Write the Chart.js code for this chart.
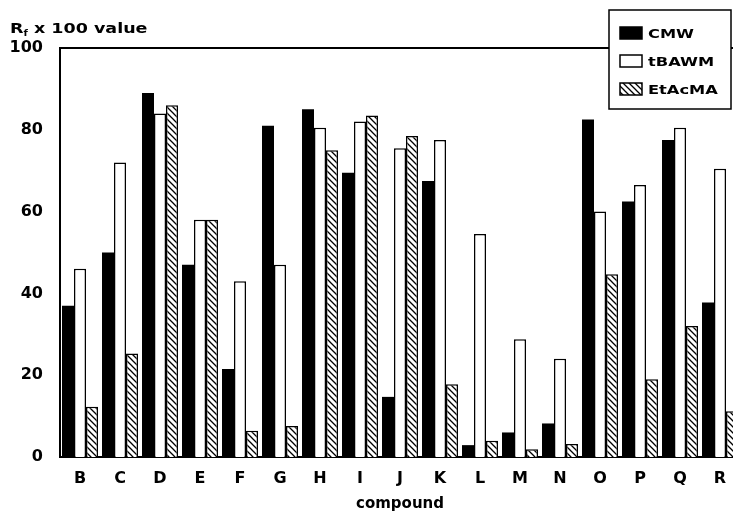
<!DOCTYPE html>
<html lang="en">
<head>
    <meta charset="UTF-8">
    <title>Rf x 100 value by compound</title>
    <style>
        body { margin: 0; overflow: hidden; background: #fff; }
        #wrap { width: 745px; height: 513px; position: relative; }
    </style>
</head>
<body>
    <div id="wrap">
        <canvas id="myChart"></canvas>
    </div>

    <script src="https://cdn.jsdelivr.net/npm/chart.js@4.4.0/dist/chart.umd.min.js"></script>
    <script>
        // data
        const categories = ['B', 'C', 'D', 'E', 'F', 'G', 'H', 'I', 'J', 'K', 'L', 'M', 'N', 'O', 'P', 'Q', 'R'];
        const cmw    = [37, 50, 89, 47, 21.5, 81, 85, 69.5, 14.7, 67.5, 2.9, 6, 8.2, 82.5, 62.5, 77.5, 37.8];
        const tbawm  = [46, 72, 84, 58, 43, 47, 80.5, 82, 75.5, 77.5, 54.5, 28.8, 24, 60, 66.5, 80.5, 70.5];
        const etacma = [12.3, 25.3, 86, 58, 6.4, 7.6, 75, 83.5, 78.5, 17.8, 4, 1.9, 3.2, 44.7, 19, 32, 11.2];
        const yTicks = [0, 20, 40, 60, 80, 100];

        const FONT = '"DejaVu Sans", "Liberation Sans", sans-serif';

        // diagonal hatch pattern for EtAcMA
        function makeHatch(ctx) {
            const c = document.createElement('canvas');
            c.width = 6; c.height = 6;
            const x = c.getContext('2d');
            x.fillStyle = '#fff';
            x.fillRect(0, 0, 6, 6);
            x.strokeStyle = '#000';
            x.lineWidth = 1.3;
            x.beginPath();
            x.moveTo(-1, -1); x.lineTo(7, 7);
            x.moveTo(-4, 2); x.lineTo(4, 10);
            x.moveTo(2, -4); x.lineTo(10, 4);
            x.stroke();
            return ctx.createPattern(c, 'repeat');
        }

        const canvas = document.getElementById('myChart');
        const hatch = makeHatch(canvas.getContext('2d'));

        // draws the top frame line, the y title and the boxed legend
        const decorations = {
            id: 'decorations',
            afterDraw(chart) {
                const ctx = chart.ctx;
                const a = chart.chartArea;
                ctx.save();
                ctx.strokeStyle = '#000';
                ctx.lineWidth = 2;
                ctx.beginPath();
                ctx.moveTo(a.left, a.top);
                ctx.lineTo(a.right, a.top);
                ctx.stroke();

                // y title with subscript f
                ctx.fillStyle = '#000';
                ctx.textBaseline = 'alphabetic';
                ctx.save();
                ctx.translate(10, 33);
                ctx.scale(1.25, 1);
                ctx.font = 'bold 14px ' + FONT;
                ctx.fillText('R', 0, 0);
                let w = ctx.measureText('R').width;
                ctx.font = 'bold 8px ' + FONT;
                ctx.fillText('f', w, 3);
                w += ctx.measureText('f').width;
                ctx.font = 'bold 14px ' + FONT;
                ctx.fillText(' x 100 value', w, 0);
                ctx.restore();

                // legend box
                const bx = 609, by = 10, bw = 122, bh = 99;
                ctx.fillStyle = '#fff';
                ctx.fillRect(bx, by, bw, bh);
                ctx.lineWidth = 1.5;
                ctx.strokeRect(bx, by, bw, bh);
                const rows = [33, 61, 89];
                chart.data.datasets.forEach((ds, i) => {
                    const cy = rows[i];
                    ctx.fillStyle = ds.backgroundColor;
                    ctx.fillRect(620, cy - 6, 22, 12);
                    ctx.lineWidth = 1.5;
                    ctx.strokeRect(620, cy - 6, 22, 12);
                    ctx.fillStyle = '#000';
                    ctx.save();
                    ctx.translate(648, cy + 5);
                    ctx.scale(1.25, 1);
                    ctx.font = 'bold 13px ' + FONT;
                    ctx.fillText(ds.label, 0, 0);
                    ctx.restore();
                });
                ctx.restore();
            }
        };

        const config = {
            type: 'bar',
            data: {
                labels: categories,
                datasets: [
                    { label: 'CMW', data: cmw, backgroundColor: '#000', borderColor: '#000', borderWidth: 0 },
                    { label: 'tBAWM', data: tbawm, backgroundColor: '#fff', borderColor: '#000', borderWidth: 1.5 },
                    { label: 'EtAcMA', data: etacma, backgroundColor: hatch, borderColor: '#000', borderWidth: 1.5 }
                ]
            },
            options: {
                responsive: true,
                maintainAspectRatio: false,
                animation: false,
                categoryPercentage: 0.9,
                barPercentage: 1.0,
                layout: { padding: { top: 48, right: 5, left: 0, bottom: 0 } },
                plugins: {
                    legend: { display: false },
                    tooltip: { enabled: false }
                },
                scales: {
                    x: {
                        grid: { display: false },
                        border: { display: true, color: '#000', width: 2 },
                        ticks: { color: '#000', padding: 4, font: { family: FONT, size: 16, weight: 'bold' } },
                        title: {
                            display: true,
                            text: 'compound',
                            color: '#000',
                            padding: { top: 0, bottom: 0 },
                            font: { family: FONT, size: 15, weight: 'bold' }
                        },
                        afterFit: s => { s.height = 56; }
                    },
                    y: {
                        min: 0,
                        max: 100,
                        grid: { display: false },
                        border: { display: true, color: '#000', width: 2 },
                        afterBuildTicks: s => { s.ticks = yTicks.map(v => ({ value: v })); },
                        ticks: { color: '#000', padding: 9, font: { family: FONT, size: 16, weight: 'bold' } },
                        afterFit: s => { s.width = 60; }
                    }
                }
            },
            plugins: [decorations]
        };

        const myChart = new Chart(canvas, config);
    </script>
</body>
</html>
